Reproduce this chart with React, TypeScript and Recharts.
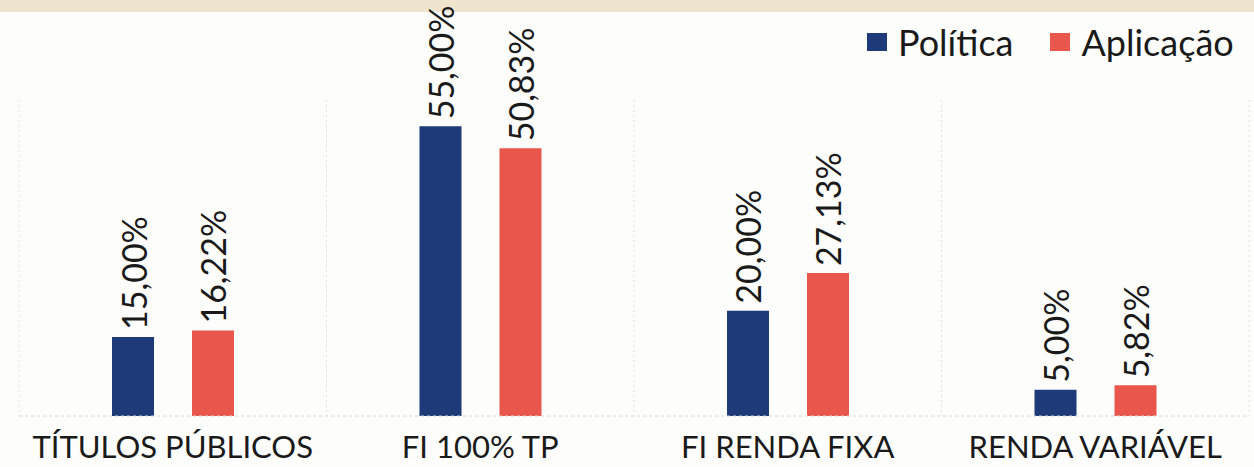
import React from 'react';
import {
  BarChart,
  Bar,
  XAxis,
  YAxis,
  CartesianGrid,
  Legend,
  LabelList,
} from 'recharts';

const categories = ['TÍTULOS PÚBLICOS', 'FI 100% TP', 'FI RENDA FIXA', 'RENDA VARIÁVEL'];
const politica = [15.0, 55.0, 20.0, 5.0];
const aplicacao = [16.22, 50.83, 27.13, 5.82];

const seriesNames = ['Política', 'Aplicação'];
const COLORS = ['#1f3a78', '#e8564c'];

const FONT = 'Lato, "Open Sans", sans-serif';

const data = categories.map((name, i) => ({
  name,
  politica: politica[i],
  aplicacao: aplicacao[i],
}));

const fmt = (v: number) => v.toFixed(2).replace('.', ',') + '%';

const renderLabel = (props: any) => {
  const { x, y, width, value } = props;
  const cx = Number(x) + Number(width) / 2;
  const cy = Number(y) - 7;
  return (
    <text
      x={cx}
      y={cy}
      transform={`rotate(-90 ${cx} ${cy})`}
      textAnchor="start"
      dominantBaseline="central"
      fontFamily={FONT}
      fontSize={34}
      fill="#1a1a1a"
    >
      {fmt(Number(value))}
    </text>
  );
};

const renderLegend = (props: any) => {
  const items = [...(props.payload || [])].sort(
    (a: any, b: any) => seriesNames.indexOf(a.value) - seriesNames.indexOf(b.value)
  );
  return (
    <div style={{ display: 'flex', height: 40, alignItems: 'center', fontFamily: FONT }}>
      {items.map((entry: any, i: number) => (
        <div key={`leg-${i}`} style={{ display: 'flex', alignItems: 'center', marginLeft: i ? 37 : 0 }}>
          <span
            style={{
              display: 'inline-block',
              width: 20,
              height: 18,
              background: entry.color,
              marginRight: 11,
            }}
          />
          <span style={{ fontSize: 36, color: '#1a1a1a' }}>{entry.value}</span>
        </div>
      ))}
    </div>
  );
};

export default function App() {
  return (
    <div
      style={{
        position: 'absolute',
        left: 0,
        top: 0,
        width: 1254,
        height: 467,
        background: '#fdfdfc',
        overflow: 'hidden',
      }}
    >
      <div style={{ position: 'absolute', left: 0, top: 0, width: 1254, height: 12, background: '#efe5cf' }} />
      <BarChart
        width={1254}
        height={467}
        data={data}
        margin={{ top: 60, right: 5, bottom: 0, left: 19 }}
        barSize={42}
        barGap={38}
      >
        <CartesianGrid
          horizontal={false}
          stroke="#e2e2e2"
          strokeDasharray="2 3"
          verticalCoordinatesGenerator={({ offset }: any) =>
            [0, 1, 2, 3, 4].map((i) => offset.left + (i * offset.width) / 4)
          }
        />
        <XAxis
          dataKey="name"
          tickLine={false}
          axisLine={{ stroke: '#d6d6d6', strokeDasharray: '3 3' }}
          height={51}
          interval={0}
          tick={{ fontSize: 31, fill: '#1a1a1a', fontFamily: FONT }}
          tickMargin={14}
        />
        <YAxis hide domain={[0, 60]} />
        <Legend
          verticalAlign="top"
          content={renderLegend}
          wrapperStyle={{ top: 22, left: 867, width: 'auto' }}
        />
        <Bar dataKey="politica" name={seriesNames[0]} fill={COLORS[0]} isAnimationActive={false}>
          <LabelList dataKey="politica" content={renderLabel} />
        </Bar>
        <Bar dataKey="aplicacao" name={seriesNames[1]} fill={COLORS[1]} isAnimationActive={false}>
          <LabelList dataKey="aplicacao" content={renderLabel} />
        </Bar>
      </BarChart>
    </div>
  );
}
